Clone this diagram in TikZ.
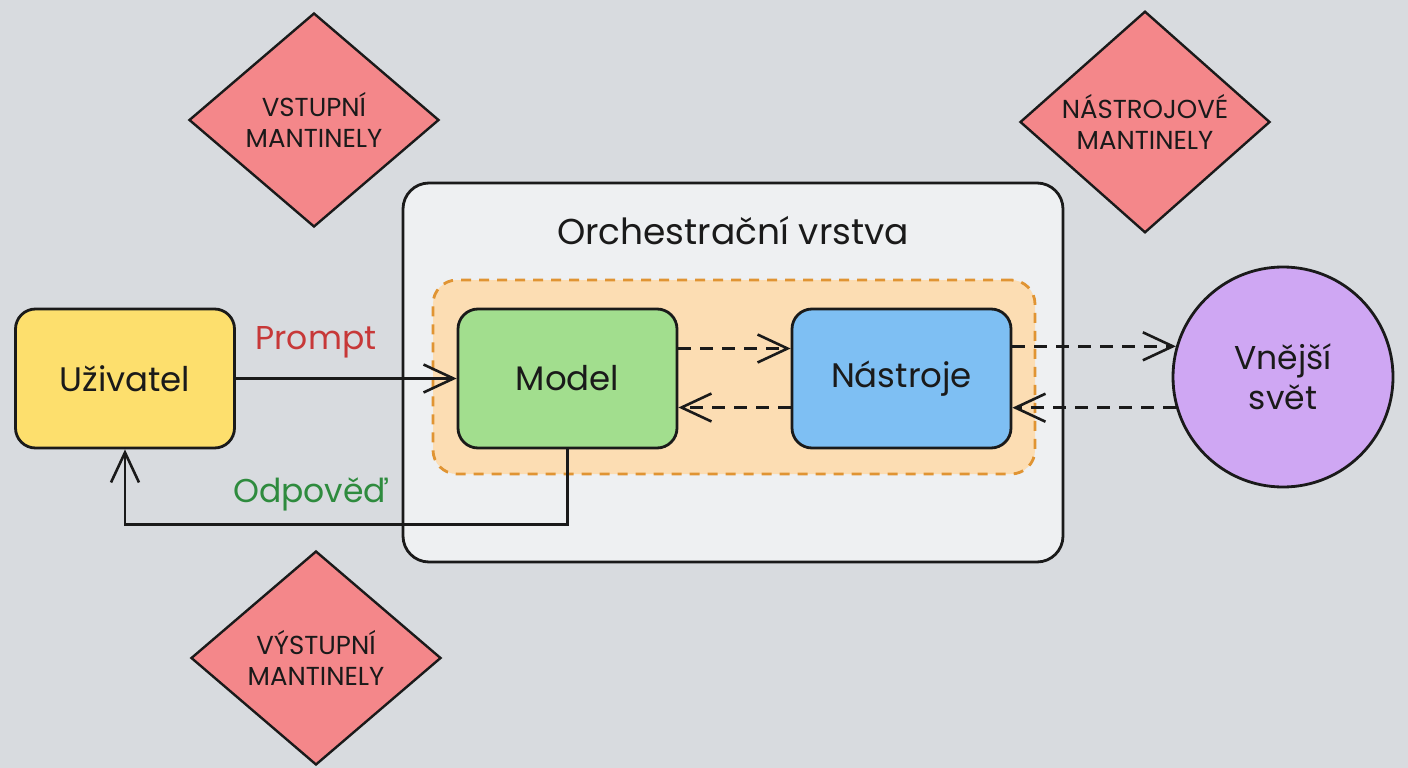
\documentclass[tikz,border=0pt]{standalone}
\usepackage{fontspec}
\setmainfont{Poppins}
\usetikzlibrary{shapes.geometric,arrows.meta}
\definecolor{bgc}{HTML}{D8DBDF}
\definecolor{orchc}{HTML}{EEF0F2}
\definecolor{orfill}{HTML}{FCDDB3}
\definecolor{ordash}{HTML}{E09433}
\definecolor{greenc}{HTML}{A2DE8E}
\definecolor{bluec}{HTML}{7EBFF3}
\definecolor{yellowc}{HTML}{FDDF6D}
\definecolor{purplec}{HTML}{CFA7F3}
\definecolor{redc}{HTML}{F4878A}
\definecolor{promptc}{HTML}{C73838}
\definecolor{answc}{HTML}{2E8B3E}
\definecolor{inkc}{HTML}{1A1A1A}
\tikzset{
  boxnode/.style={draw=inkc, line width=2.8pt, rounded corners=20pt, minimum width=219pt, minimum height=139pt, font=\fontsize{34}{40}\selectfont, text=inkc},
  guard/.style={diamond, draw=inkc, fill=redc, line width=2.4pt, minimum width=250pt, minimum height=214pt, inner sep=0pt, align=center, font=\fontsize{26}{31}\selectfont, text=inkc},
  arr/.style={draw=inkc, line width=2.6pt, -{Straight Barb[length=30pt,width=28pt,line width=2.6pt]}},
  darr/.style={arr, dash pattern=on 13pt off 9pt},
  lbl/.style={font=\fontsize{33}{38}\selectfont}
}
\begin{document}
\begin{tikzpicture}[x=1pt,y=-1pt]
\path[fill=bgc] (0,0) rectangle (1408,768);
\useasboundingbox (0,0) rectangle (1408,768);
% orchestration layer
\node[draw=inkc, fill=orchc, line width=2.8pt, rounded corners=26pt, minimum width=660pt, minimum height=379pt, inner sep=0pt] (orch) at (733,372.5) {};
\node[font=\fontsize{36}{40}\selectfont, text=inkc] (orchtitle) at (733,231) {Orchestrační vrstva};
\node[draw=ordash, fill=orfill, line width=2.8pt, dash pattern=on 10pt off 8pt, rounded corners=24pt, minimum width=602pt, minimum height=194pt, inner sep=0pt] (loop) at (734,377) {};
% guardrails
\node[guard] (gin) at (314,120) {VSTUPNÍ\\MANTINELY};
\node[guard] (gtool) at (1145,122) {NÁSTROJOVÉ\\MANTINELY};
\node[guard] (gout) at (316,658) {VÝSTUPNÍ\\MANTINELY};
% nodes
\node[boxnode, fill=yellowc] (user) at (125,378.5) {Uživatel};
\node[boxnode, fill=greenc] (model) at (567.5,378.5) {Model};
\node[boxnode, fill=bluec] (tools) at (901.5,378.5) {Nástroje};
\node[circle, draw=inkc, fill=purplec, line width=2.8pt, minimum size=220pt, inner sep=0pt, align=center, font=\fontsize{33}{40}\selectfont, text=inkc] (world) at (1283,377) {Vnější\\svět};
% connectors
\draw[arr] (user.east) -- (model.west);
\node[lbl, text=promptc] (plabel) at (316,342) {Prompt};
\draw[arr] (model.south) -- ++(0,75) -| (user.south);
\node[lbl, text=answc] (alabel) at (311,494) {Odpověď};
\draw[darr] ([yshift=30pt]model.east) -- ([yshift=30pt]tools.west);
\draw[darr] ([yshift=-29pt]tools.west) -- ([yshift=-29pt]model.east);
\draw[darr] (tools.east |- world.164) -- (world.164);
\draw[darr] (world.196) -- (tools.east |- world.196);
\end{tikzpicture}
\end{document}
